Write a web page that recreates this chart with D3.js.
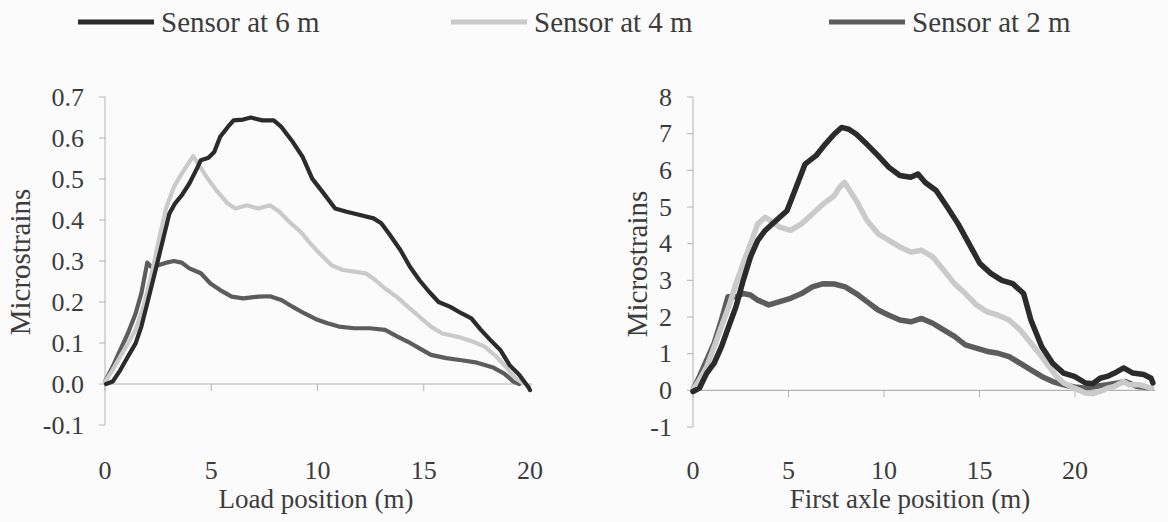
<!DOCTYPE html>
<html>
<head>
<meta charset="utf-8">
<script src="https://cdn.jsdelivr.net/npm/d3@7/dist/d3.min.js"></script>
<style>
  html, body { margin: 0; padding: 0; background: #fbfbfb; }
  svg { display: block; }
</style>
</head>
<body>
<svg id="chart" width="1168" height="522" font-family="'Liberation Serif', 'Times New Roman', Times, 'DejaVu Serif', serif"></svg>
<script>
// Series names and styling keys
const seriesNames = ["Sensor at 6 m", "Sensor at 4 m", "Sensor at 2 m"];

// Left panel: strain vs. load position (m)
const load6m = [[0.05,0],[0.36,0.006],[0.72,0.034],[1.08,0.067],[1.44,0.099],[1.71,0.14],[1.99,0.197],[2.26,0.253],[2.53,0.31],[2.8,0.367],[3.03,0.416],[3.29,0.44],[3.61,0.46],[3.97,0.489],[4.33,0.526],[4.51,0.546],[4.87,0.552],[5.14,0.566],[5.42,0.603],[5.78,0.627],[6.05,0.643],[6.5,0.645],[6.86,0.65],[7.4,0.643],[7.94,0.643],[8.3,0.627],[8.84,0.59],[9.3,0.554],[9.75,0.501],[10.29,0.465],[10.83,0.428],[11.37,0.42],[12.0,0.412],[12.64,0.404],[13.0,0.392],[13.36,0.367],[13.9,0.327],[14.35,0.286],[14.8,0.253],[15.25,0.225],[15.7,0.2],[16.25,0.188],[16.79,0.172],[17.24,0.16],[17.69,0.132],[18.14,0.107],[18.6,0.083],[19.04,0.046],[19.5,0.022],[19.95,-0.01],[20.0,-0.015]];
const load4m = [[0,0.006],[0.36,0.034],[0.72,0.067],[1.08,0.099],[1.44,0.132],[1.8,0.188],[2.17,0.262],[2.53,0.351],[2.89,0.432],[3.25,0.481],[3.61,0.513],[3.97,0.542],[4.15,0.556],[4.42,0.534],[4.78,0.505],[5.23,0.473],[5.78,0.44],[6.14,0.428],[6.68,0.436],[7.22,0.428],[7.76,0.436],[8.21,0.42],[8.66,0.396],[9.21,0.371],[9.66,0.343],[10.11,0.318],[10.65,0.29],[11.19,0.278],[11.73,0.274],[12.27,0.27],[12.73,0.253],[13.18,0.233],[13.72,0.213],[14.26,0.188],[14.8,0.164],[15.34,0.14],[15.88,0.123],[16.61,0.115],[17.33,0.103],[17.87,0.091],[18.41,0.067],[18.86,0.042],[19.31,0.014],[19.68,0.002]];
const load2m = [[0,0.006],[0.36,0.042],[0.72,0.083],[1.08,0.124],[1.44,0.172],[1.71,0.221],[1.99,0.296],[2.17,0.286],[2.53,0.29],[2.89,0.296],[3.25,0.3],[3.61,0.296],[3.97,0.282],[4.51,0.27],[4.96,0.245],[5.42,0.229],[5.96,0.213],[6.5,0.209],[7.22,0.213],[7.76,0.214],[8.3,0.205],[8.84,0.188],[9.39,0.172],[9.93,0.158],[10.47,0.148],[11.01,0.14],[11.73,0.136],[12.45,0.136],[13.18,0.132],[13.72,0.117],[14.26,0.103],[14.8,0.087],[15.34,0.071],[16.06,0.063],[16.79,0.058],[17.51,0.052],[18.23,0.041],[18.77,0.026],[19.22,0.006],[19.5,0]];

// Right panel: strain vs. first axle position (m)
const axle6m = [[0,-0.03],[0.34,0.06],[0.72,0.47],[1.11,0.74],[1.49,1.19],[1.87,1.74],[2.25,2.28],[2.63,3.0],[3.01,3.64],[3.39,4.09],[3.78,4.36],[4.35,4.63],[4.92,4.9],[5.4,5.54],[5.87,6.17],[6.44,6.4],[6.92,6.71],[7.4,6.99],[7.78,7.17],[8.16,7.12],[8.54,6.99],[9.11,6.71],[9.69,6.4],[10.26,6.08],[10.83,5.86],[11.4,5.81],[11.78,5.9],[12.16,5.67],[12.73,5.45],[13.31,5.0],[13.88,4.54],[14.45,4.0],[15.02,3.46],[15.59,3.19],[16.17,3.0],[16.74,2.91],[17.31,2.64],[17.69,1.92],[18.26,1.19],[18.83,0.74],[19.4,0.47],[19.97,0.38],[20.55,0.2],[20.93,0.18],[21.31,0.33],[21.69,0.38],[22.07,0.47],[22.55,0.61],[23.03,0.47],[23.6,0.43],[23.98,0.33],[24.08,0.2]];
const axle4m = [[0,0.02],[0.34,0.29],[0.72,0.65],[1.11,1.19],[1.49,1.74],[1.87,2.28],[2.25,2.91],[2.63,3.46],[3.01,4.0],[3.39,4.54],[3.78,4.72],[4.16,4.59],[4.54,4.45],[5.11,4.36],[5.68,4.54],[6.25,4.81],[6.83,5.09],[7.4,5.31],[7.68,5.54],[7.93,5.67],[8.16,5.49],[8.54,5.18],[9.11,4.63],[9.69,4.27],[10.26,4.09],[10.83,3.91],[11.4,3.77],[11.97,3.82],[12.55,3.64],[13.12,3.28],[13.69,2.91],[14.26,2.64],[14.83,2.33],[15.41,2.14],[15.98,2.05],[16.55,1.92],[17.12,1.65],[17.69,1.29],[18.26,0.92],[18.64,0.65],[19.03,0.38],[19.41,0.2],[19.98,0.06],[20.55,-0.07],[20.93,-0.09],[21.31,-0.03],[21.69,0.06],[22.07,0.11],[22.55,0.24],[22.84,0.15],[23.41,0.15],[23.98,0.06]];
const axle2m = [[0,0.02],[0.34,0.38],[0.72,0.83],[1.11,1.29],[1.49,1.92],[1.83,2.55],[2.25,2.55],[2.63,2.64],[3.01,2.6],[3.39,2.46],[3.97,2.33],[4.54,2.42],[5.11,2.51],[5.68,2.64],[6.25,2.82],[6.83,2.91],[7.4,2.9],[7.97,2.82],[8.54,2.64],[9.11,2.42],[9.69,2.19],[10.26,2.05],[10.83,1.92],[11.4,1.87],[11.97,1.96],[12.55,1.83],[13.12,1.65],[13.69,1.47],[14.26,1.24],[14.83,1.15],[15.41,1.06],[15.98,1.01],[16.55,0.92],[17.12,0.74],[17.69,0.56],[18.26,0.38],[18.83,0.24],[19.41,0.15],[19.98,0.09],[20.55,0.06],[21.12,0.11],[21.69,0.15],[22.26,0.2],[22.64,0.24],[23.22,0.11],[23.98,0.06]];

// Tick values and labels
const leftYTicks = [-0.1, 0, 0.1, 0.2, 0.3, 0.4, 0.5, 0.6, 0.7];
const leftYLabels = ["-0.1", "0.0", "0.1", "0.2", "0.3", "0.4", "0.5", "0.6", "0.7"];
const rightYTicks = [-1, 0, 1, 2, 3, 4, 5, 6, 7, 8];
const rightYLabels = ["-1", "0", "1", "2", "3", "4", "5", "6", "7", "8"];
const xTicks = [0, 5, 10, 15, 20];

const seriesColor = ["#2b2b2b", "#cacaca", "#5c5c5c"];
const textColor = "#3c3c3c";

const svg = d3.select("#chart");

function panel(cfg) {
  const g = svg.append("g");
  const x = cfg.x, y = cfg.y;
  const axisColor = "#b4b4b4";
  const x0 = x(0);

  // vertical axis with outward ticks
  g.append("line").attr("x1", x0).attr("x2", x0)
    .attr("y1", y.range()[1]).attr("y2", y.range()[0])
    .attr("stroke", axisColor).attr("stroke-width", 1);
  cfg.yTicks.forEach((t, i) => {
    g.append("line").attr("x1", x0 - 6).attr("x2", x0)
      .attr("y1", y(t)).attr("y2", y(t))
      .attr("stroke", axisColor).attr("stroke-width", 1);
    g.append("text").attr("x", x0 - 21).attr("y", y(t) + 8.5)
      .attr("text-anchor", "end").attr("font-size", 26).attr("fill", textColor)
      .text(cfg.yLabels[i]);
  });

  // horizontal axis along the zero line
  g.append("line").attr("x1", x0).attr("x2", cfg.xEnd)
    .attr("y1", y(0)).attr("y2", y(0))
    .attr("stroke", axisColor).attr("stroke-width", 1.2);
  xTicks.forEach(t => {
    g.append("line").attr("x1", x(t)).attr("x2", x(t))
      .attr("y1", y(0)).attr("y2", y(0) + 7)
      .attr("stroke", axisColor).attr("stroke-width", 1);
    g.append("text").attr("x", x(t)).attr("y", 479)
      .attr("text-anchor", "middle").attr("font-size", 26).attr("fill", textColor)
      .text(t);
  });

  // axis titles
  g.append("text").attr("x", cfg.titleX).attr("y", 508)
    .attr("text-anchor", "middle").attr("font-size", 27).attr("fill", textColor)
    .text(cfg.xTitle);
  g.append("text")
    .attr("transform", `translate(${cfg.yTitleX},${cfg.yTitleY}) rotate(-90)`)
    .attr("text-anchor", "middle").attr("font-size", 29).attr("fill", textColor)
    .text("Microstrains");

  const line = d3.line().x(d => x(d[0])).y(d => y(d[1]));
  // draw 2 m first, then 4 m, then 6 m on top
  [2, 1, 0].forEach(k => {
    g.append("path").datum(cfg.series[k])
      .attr("d", line)
      .attr("fill", "none")
      .attr("stroke", seriesColor[k])
      .attr("stroke-width", cfg.lineWidth)
      .attr("stroke-linejoin", "round")
      .attr("stroke-linecap", "round");
  });
}

panel({
  x: d3.scaleLinear().domain([0, 20]).range([105, 530]),
  y: d3.scaleLinear().domain([-0.1, 0.7]).range([425, 97]),
  yTicks: leftYTicks, yLabels: leftYLabels,
  xEnd: 532,
  xTitle: "Load position (m)", titleX: 316,
  yTitleX: 30, yTitleY: 262,
  series: [load6m, load4m, load2m],
  lineWidth: 4.2
});

panel({
  x: d3.scaleLinear().domain([0, 20]).range([693, 1075]),
  y: d3.scaleLinear().domain([-1, 8]).range([427, 97]),
  yTicks: rightYTicks, yLabels: rightYLabels,
  xEnd: 1155,
  xTitle: "First axle position (m)", titleX: 910,
  yTitleX: 647, yTitleY: 264,
  series: [axle6m, axle4m, axle2m],
  lineWidth: 5.5
});

// legend across the top
const legendX = [78, 451, 829];
seriesNames.forEach((name, i) => {
  svg.append("line").attr("x1", legendX[i]).attr("x2", legendX[i] + 76)
    .attr("y1", 22).attr("y2", 22)
    .attr("stroke", seriesColor[i]).attr("stroke-width", 5);
  svg.append("text").attr("x", legendX[i] + 83).attr("y", 32)
    .attr("font-size", 29).attr("fill", textColor)
    .text(name);
});
</script>
</body>
</html>
